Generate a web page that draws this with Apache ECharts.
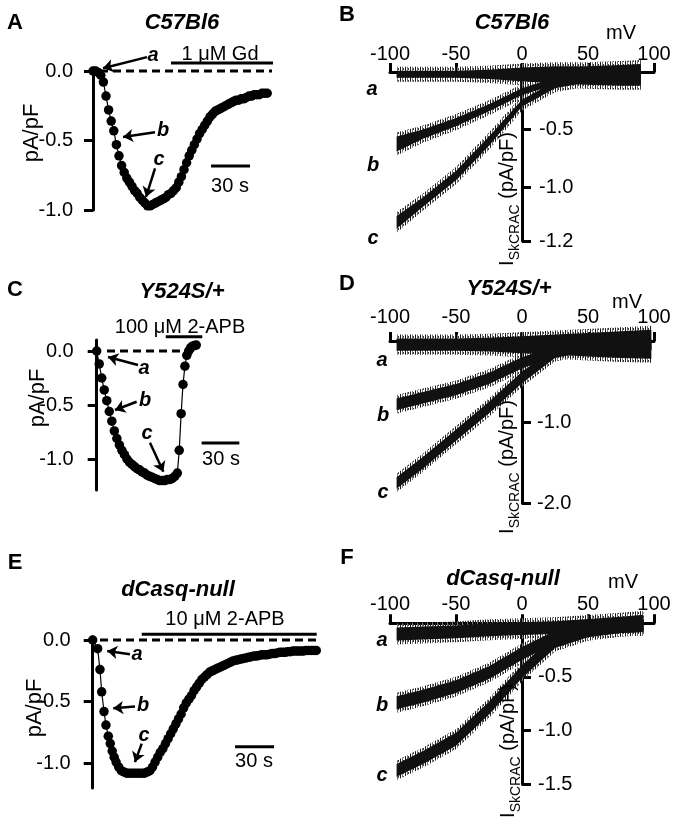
<!DOCTYPE html>
<html><head><meta charset="utf-8">
<script src="https://cdn.jsdelivr.net/npm/echarts@6/dist/echarts.min.js"></script>
<style>html,body{margin:0;padding:0;background:#fff}#c{width:683px;height:835px}</style>
</head><body><div id="c"></div>
<script>
// ---------- DATA ----------
// Panel A (C57Bl6) time course, seconds / pA/pF
const timeA = [0,2,4,6,8,10,12,14,16,18,20,22,24,26,28,30,32,34,36,38,40,42,44,46,48,50,52,54,56,58,60,62,64,66,68,70,72,74,76,78,80,82,84,86,88,90,92,94,96,98,100,102,104,106,108,110,112,114,116,118,120,122,124,126,128,130,132,134];
const currA = [0,0,-0.01,-0.03,-0.08,-0.18,-0.28,-0.36,-0.43,-0.53,-0.61,-0.68,-0.73,-0.77,-0.80,-0.83,-0.86,-0.88,-0.91,-0.93,-0.95,-0.97,-0.97,-0.96,-0.95,-0.94,-0.93,-0.92,-0.91,-0.89,-0.88,-0.86,-0.84,-0.80,-0.76,-0.71,-0.66,-0.61,-0.57,-0.53,-0.49,-0.45,-0.42,-0.39,-0.36,-0.33,-0.31,-0.29,-0.28,-0.27,-0.26,-0.25,-0.24,-0.23,-0.22,-0.21,-0.21,-0.20,-0.20,-0.19,-0.18,-0.18,-0.17,-0.17,-0.17,-0.16,-0.16,-0.16];
// Panel C (Y524S/+)
const timeC = [0,2,4,6,8,10,12,14,16,18,20,22,24,26,28,30,32,34,36,38,40,42,44,46,48,50,52,54,56,58,60,62,64,65.5,67,68.5,70,71.5,73,74.5,76,77.5,79];
const currC = [0,-0.12,-0.25,-0.36,-0.46,-0.56,-0.65,-0.74,-0.81,-0.87,-0.92,-0.96,-1.00,-1.03,-1.05,-1.07,-1.09,-1.10,-1.12,-1.13,-1.15,-1.16,-1.17,-1.18,-1.19,-1.20,-1.20,-1.20,-1.19,-1.19,-1.18,-1.16,-1.13,-0.92,-0.58,-0.31,-0.14,-0.04,0.0,0.03,0.045,0.05,0.055];
// Panel E (dCasq-null)
const timeE = [0,3.8,5.6,6.9,8.7,10.2,12,13.5,15,16.5,18,20,22,24,26,28,30,32,34,36,38,40,42,44,46,48,50,52,54,56,58,60,62,64,66,68,70,72,74,76,78,80,82,84,86,88,90,92,94,96,98,100,102,104,106,108,110,112,114,116,118,120,122,124,126,128,130,132,134,136,138,140,142,144,146,148,150,152,154,156,158,160,162,164,166,168,170,172];
const currE = [0,-0.07,-0.24,-0.42,-0.58,-0.69,-0.78,-0.84,-0.90,-0.95,-0.99,-1.03,-1.06,-1.07,-1.08,-1.08,-1.08,-1.08,-1.08,-1.08,-1.08,-1.08,-1.07,-1.06,-1.03,-0.99,-0.95,-0.91,-0.88,-0.84,-0.80,-0.76,-0.72,-0.68,-0.64,-0.60,-0.55,-0.51,-0.48,-0.45,-0.41,-0.38,-0.35,-0.32,-0.30,-0.28,-0.26,-0.25,-0.24,-0.23,-0.22,-0.21,-0.20,-0.19,-0.18,-0.17,-0.165,-0.16,-0.155,-0.15,-0.145,-0.14,-0.135,-0.13,-0.13,-0.125,-0.12,-0.12,-0.12,-0.115,-0.11,-0.11,-0.105,-0.10,-0.10,-0.10,-0.095,-0.095,-0.09,-0.09,-0.09,-0.09,-0.09,-0.085,-0.085,-0.085,-0.085,-0.085];

// I-V traces (mV vs pA/pF): dense-core envelopes (low / high)
const voltB = [-95,-75,-50,-25,0,25,50,75,90];
const aLoB = [-0.05,-0.05,-0.05,-0.06,-0.08,-0.10,-0.11,-0.12,-0.12];
const aHiB = [0.01,0.01,0.01,0.02,0.04,0.05,0.05,0.06,0.07];
const bLoB = [-0.69,-0.58,-0.47,-0.34,-0.20,-0.11,-0.08,-0.07,-0.06];
const bHiB = [-0.56,-0.50,-0.40,-0.28,-0.14,-0.05,-0.02,-0.01,0.00];
const cLoB = [-1.36,-1.17,-0.94,-0.64,-0.30,-0.14,-0.09,-0.07,-0.06];
const cHiB = [-1.25,-1.09,-0.86,-0.56,-0.24,-0.08,-0.03,-0.01,0.00];

const voltD = [-95,-75,-50,-25,0,25,50,75,98];
const aLoD = [-0.12,-0.12,-0.12,-0.13,-0.15,-0.17,-0.19,-0.21,-0.22];
const aHiD = [0.03,0.03,0.03,0.04,0.06,0.08,0.10,0.12,0.14];
const bLoD = [-0.85,-0.77,-0.67,-0.53,-0.34,-0.19,-0.13,-0.11,-0.11];
const bHiD = [-0.71,-0.63,-0.53,-0.39,-0.20,-0.06,-0.01,0.01,0.02];
const cLoD = [-1.82,-1.57,-1.23,-0.89,-0.52,-0.21,-0.13,-0.11,-0.11];
const cHiD = [-1.68,-1.43,-1.09,-0.75,-0.38,-0.08,-0.01,0.01,0.02];

const voltF = [-95,-75,-50,-25,0,25,50,75,92];
const aLoF = [-0.16,-0.15,-0.14,-0.12,-0.11,-0.10,-0.09,-0.08,-0.08];
const aHiF = [-0.04,-0.03,-0.02,0.00,0.01,0.02,0.04,0.06,0.08];
const bLoF = [-0.80,-0.74,-0.65,-0.52,-0.34,-0.19,-0.12,-0.09,-0.08];
const bHiF = [-0.68,-0.62,-0.53,-0.40,-0.22,-0.07,0.00,0.03,0.04];
const cLoF = [-1.43,-1.31,-1.14,-0.85,-0.51,-0.23,-0.13,-0.09,-0.08];
const cHiF = [-1.31,-1.19,-1.02,-0.73,-0.39,-0.11,-0.01,0.03,0.04];

// tick values and labels
const ticksA = [0, -0.5, -1.0];
const ticksC = [0, -0.5, -1.0];
const ticksE = [0, -0.5, -1.0];
const ivXTicks = [-100, -50, 0, 50, 100];
const ticksB = [-0.5, -1.0, -1.467];
const labelsB = ['-0.5', '-1.0', '-1.2'];
const ticksD = [-1.0, -2.0];
const labelsD = ['-1.0', '-2.0'];
const ticksF = [-0.5, -1.0, -1.5];
const labelsF = ['-0.5', '-1.0', '-1.5'];

// ---------- CHART ----------
const FONT = '"Liberation Sans", Arial, Helvetica, sans-serif';
const K = '#000';
const chart = echarts.init(document.getElementById('c'), null, {renderer: 'canvas', width: 683, height: 835});
const zip = (xs, ys) => xs.map((x, i) => [x, ys[i]]);

// streaky texture for the noisy edges of the current traces
const pc = document.createElement('canvas');
pc.width = 5; pc.height = 4;
const pg = pc.getContext('2d');
pg.fillStyle = '#1a1a1a'; pg.fillRect(0, 0, 1, 4);
pg.fillStyle = '#777777'; pg.fillRect(2, 0, 1, 4);
pg.fillStyle = '#3a3a3a'; pg.fillRect(3, 0, 1, 2);
const streaks = {image: pc, repeat: 'repeat'};

const IV_LEFT = 390, IV_W = 264;
const grids = [
  {left: 93, top: 68, width: 182, height: 142},      // A
  {left: IV_LEFT, top: 72, width: IV_W, height: 169},     // B
  {left: 96.7, top: 340, width: 151.2, height: 150}, // C
  {left: IV_LEFT, top: 341, width: IV_W, height: 162.3},  // D
  {left: 92.7, top: 636.7, width: 227.5, height: 151.3}, // E
  {left: IV_LEFT, top: 623.3, width: IV_W, height: 161}   // F
];

const axLine = {color: K, width: 3};
function tcX(gi, max) { return {type: 'value', gridIndex: gi, min: 0, max: max, show: false}; }
function ivX(gi, margin) {
  return {type: 'value', gridIndex: gi, position: 'top', min: -100, max: 100,
    axisLine: {show: true, onZero: false, lineStyle: axLine},
    axisTick: {show: true, inside: false, length: 9, lineStyle: {color: K, width: 3}, customValues: ivXTicks},
    axisLabel: {show: true, customValues: ivXTicks, fontSize: 20, color: K, fontFamily: FONT, margin: margin,
      formatter: v => String(v)},
    splitLine: {show: false}};
}
function tcY(gi, min, max, ticks, margin) {
  return {type: 'value', gridIndex: gi, min: min, max: max, position: 'left',
    axisLine: {show: true, onZero: false, lineStyle: axLine},
    axisTick: {show: true, inside: false, length: 9, lineStyle: {color: K, width: 3}, customValues: ticks},
    axisLabel: {show: true, customValues: ticks, fontSize: 20, color: K, fontFamily: FONT, margin: margin,
      formatter: v => (Math.abs(v) < 1e-9 ? '0.0' : Number(v).toFixed(1))},
    splitLine: {show: false}};
}
// I-V current axis sits at 0 mV: shift it from the grid's left edge by half the grid width
function ivY(gi, min, ticks, labels, margin) {
  return {type: 'value', gridIndex: gi, min: min, max: 0, position: 'left', offset: -IV_W / 2,
    axisLine: {show: true, onZero: false, lineStyle: axLine},
    axisTick: {show: true, inside: true, length: 9, lineStyle: {color: K, width: 3}, customValues: ticks},
    axisLabel: {show: true, inside: true, customValues: ticks, fontSize: 20, color: K, fontFamily: FONT, margin: margin,
      formatter: v => {
        let bi = 0, bd = 1e9;
        ticks.forEach((t, i) => { const d = Math.abs(t - v); if (d < bd) { bd = d; bi = i; } });
        return labels[bi];
      }},
    splitLine: {show: false}};
}

const xAxis = [tcX(0, 140), ivX(1, 8), tcX(2, 120), ivX(3, 14), tcX(4, 175), ivX(5, 9)];
const yAxis = [
  tcY(0, -1.0, 0.0216, ticksA, 20),
  ivY(1, -1.467, ticksB, labelsB, 17),
  tcY(2, -1.287, 0.102, ticksC, 23),
  ivY(3, -2.0, ticksD, labelsD, 15),
  tcY(4, -1.2, 0.0268, ticksE, 22),
  ivY(5, -1.5, ticksF, labelsF, 16)
];

const series = [];
function seg(gi, pts, width, dashed) {
  series.push({type: 'line', xAxisIndex: gi, yAxisIndex: gi, data: pts, symbol: 'none', silent: true, clip: false,
    lineStyle: {color: K, width: width, type: dashed ? [8, 5] : 'solid'}, z: 2, animation: false});
}
function dots(gi, xs, ys) {
  series.push({type: 'line', xAxisIndex: gi, yAxisIndex: gi, data: zip(xs, ys), symbol: 'circle', symbolSize: 9.5,
    showSymbol: true, showAllSymbol: true, clip: false, silent: true,
    itemStyle: {color: K, borderWidth: 0}, lineStyle: {color: K, width: 1.2}, z: 4, animation: false});
}
function arrows(gi, list) {
  series.push({type: 'lines', coordinateSystem: 'cartesian2d', xAxisIndex: gi, yAxisIndex: gi, clip: false, silent: true,
    symbol: ['none', 'arrow'], symbolSize: 10, lineStyle: {color: K, width: 2.5, opacity: 1, curveness: 0},
    data: list.map(c => ({coords: c})), z: 5, animation: false});
}
// each noisy trace: a streaky halo (extra pixels of spikes) drawn first, then its dense core on top
function bandLayer(gi, volts, lo, hi, halo, isCore) {
  series.push({type: 'custom', xAxisIndex: gi, yAxisIndex: gi, clip: false, silent: true, data: [[0, -0.1]],
    z: isCore ? 4 : 3, animation: false,
    renderItem: (params, api) => {
      const up = volts.map((v, i) => api.coord([v, hi[i]]));
      const dn = volts.map((v, i) => api.coord([v, lo[i]])).reverse();
      if (isCore) {
        return {type: 'polygon', shape: {points: up.concat(dn)}, style: {fill: '#111'}};
      }
      const upH = up.map(p => [p[0], p[1] - halo]);
      const dnH = dn.map(p => [p[0], p[1] + halo]);
      return {type: 'polygon', shape: {points: upH.concat(dnH)}, style: {fill: streaks}};
    }});
}
function traces(gi, volts, list) {
  list.forEach(t => bandLayer(gi, volts, t[0], t[1], t[2], false));
  list.forEach(t => bandLayer(gi, volts, t[0], t[1], t[2], true));
}

// Panel A
seg(0, [[5.4, 0], [137.7, 0]], 2.8, true);
seg(0, [[60, 0.058], [138.5, 0.058]], 3, false);
seg(0, [[90.8, -0.683], [120.8, -0.683]], 3, false);
dots(0, timeA, currA);
arrows(0, [[[41.5, 0.10], [7.7, 0.02]], [[47.7, -0.44], [23.1, -0.475]], [[47.7, -0.70], [40.8, -0.906]]]);
// Panel C
seg(2, [[8.2, 0], [71.7, 0]], 2.8, true);
seg(2, [[54.8, 0.132], [83.8, 0.132]], 3, false);
seg(2, [[83.3, -0.852], [113.2, -0.852]], 3, false);
dots(2, timeC, currC);
arrows(2, [[[32.8, -0.13], [9.0, -0.056]], [[31.7, -0.47], [14.5, -0.546]], [[42.3, -0.85], [52.9, -1.118]]]);
// Panel E
seg(4, [[5.6, 0], [172.5, 0]], 2.8, true);
seg(4, [[37.7, 0.046], [172.3, 0.046]], 3, false);
seg(4, [[109.5, -0.865], [139.5, -0.865]], 3, false);
dots(4, timeE, currE);
arrows(4, [[[28.7, -0.116], [11.2, -0.089]], [[32.5, -0.54], [15.8, -0.554]], [[37.7, -0.84], [32.5, -0.99]]]);
// I-V panels
traces(1, voltB, [[aLoB, aHiB, 4], [bLoB, bHiB, 4], [cLoB, cHiB, 4]]);
traces(3, voltD, [[aLoD, aHiD, 4], [bLoD, bHiD, 3.5], [cLoD, cHiD, 3.5]]);
traces(5, voltF, [[aLoF, aHiF, 4], [bLoF, bHiF, 3.5], [cLoF, cHiF, 3.5]]);

// ---------- TEXT ----------
function txt(x, y, text, o) {
  o = o || {};
  return {type: 'text', x: x, y: y, rotation: o.rot || 0, silent: true, z: 10,
    style: {text: text, fill: K, fontFamily: FONT, fontSize: o.size || 20, fontWeight: o.weight || 'normal',
      fontStyle: o.style || 'normal', align: 'center', verticalAlign: 'middle',
      textAlign: 'center', textVerticalAlign: 'middle', rich: o.rich}};
}
const BI = {weight: 'bold', style: 'italic', size: 22};
const LET = {weight: 'bold', style: 'italic', size: 20};
const PL = {weight: 'bold', size: 22};
const ROT = {rot: Math.PI / 2, size: 22};
const iRich = {
  m: {fontSize: 20, fontFamily: FONT, lineHeight: 30, verticalAlign: 'middle'},
  s: {fontSize: 14, fontFamily: FONT, lineHeight: 14, verticalAlign: 'bottom'}
};
const iTitle = (x, y) => txt(x, y, '{m|I}{s|SkCRAC}{m| (pA/pF)}', {rot: Math.PI / 2, rich: iRich});

const graphic = [
  txt(15, 23, 'A', PL), txt(347, 15, 'B', PL), txt(15, 290, 'C', PL),
  txt(347, 284, 'D', PL), txt(15, 563, 'E', PL), txt(347, 558, 'F', PL),
  txt(182, 23, 'C57Bl6', BI), txt(512, 23, 'C57Bl6', BI),
  txt(182, 292, 'Y524S/+', BI), txt(509, 289, 'Y524S/+', BI),
  txt(178, 590, 'dCasq-null', BI), txt(503, 579, 'dCasq-null', BI),
  txt(220, 54, '1 \u03bcM Gd'), txt(180, 327, '100 \u03bcM 2-APB'), txt(225, 619, '10 \u03bcM 2-APB'),
  txt(230, 186, '30 s'), txt(221, 459, '30 s'), txt(254, 761, '30 s'),
  txt(32, 133, 'pA/pF', ROT), txt(38, 398, 'pA/pF', ROT), txt(35, 708, 'pA/pF', ROT),
  txt(621, 33, 'mV'), txt(627, 302, 'mV'), txt(623, 582, 'mV'),
  iTitle(507, 199), iTitle(507, 467), iTitle(508, 751),
  txt(153, 55, 'a', LET), txt(163, 130, 'b', LET), txt(159, 159, 'c', LET),
  txt(144, 368, 'a', LET), txt(145, 400, 'b', LET), txt(147, 433, 'c', LET),
  txt(137, 654, 'a', LET), txt(143, 705, 'b', LET), txt(144, 735, 'c', LET),
  txt(372, 89, 'a', LET), txt(373, 165, 'b', LET), txt(373, 238, 'c', LET),
  txt(382, 360, 'a', LET), txt(383, 415, 'b', LET), txt(383, 492, 'c', LET),
  txt(382, 640, 'a', LET), txt(382, 705, 'b', LET), txt(382, 775, 'c', LET)
];

chart.setOption({
  animation: false,
  backgroundColor: '#fff',
  grid: grids,
  xAxis: xAxis,
  yAxis: yAxis,
  series: series,
  graphic: graphic
});
</script>
</body></html>
